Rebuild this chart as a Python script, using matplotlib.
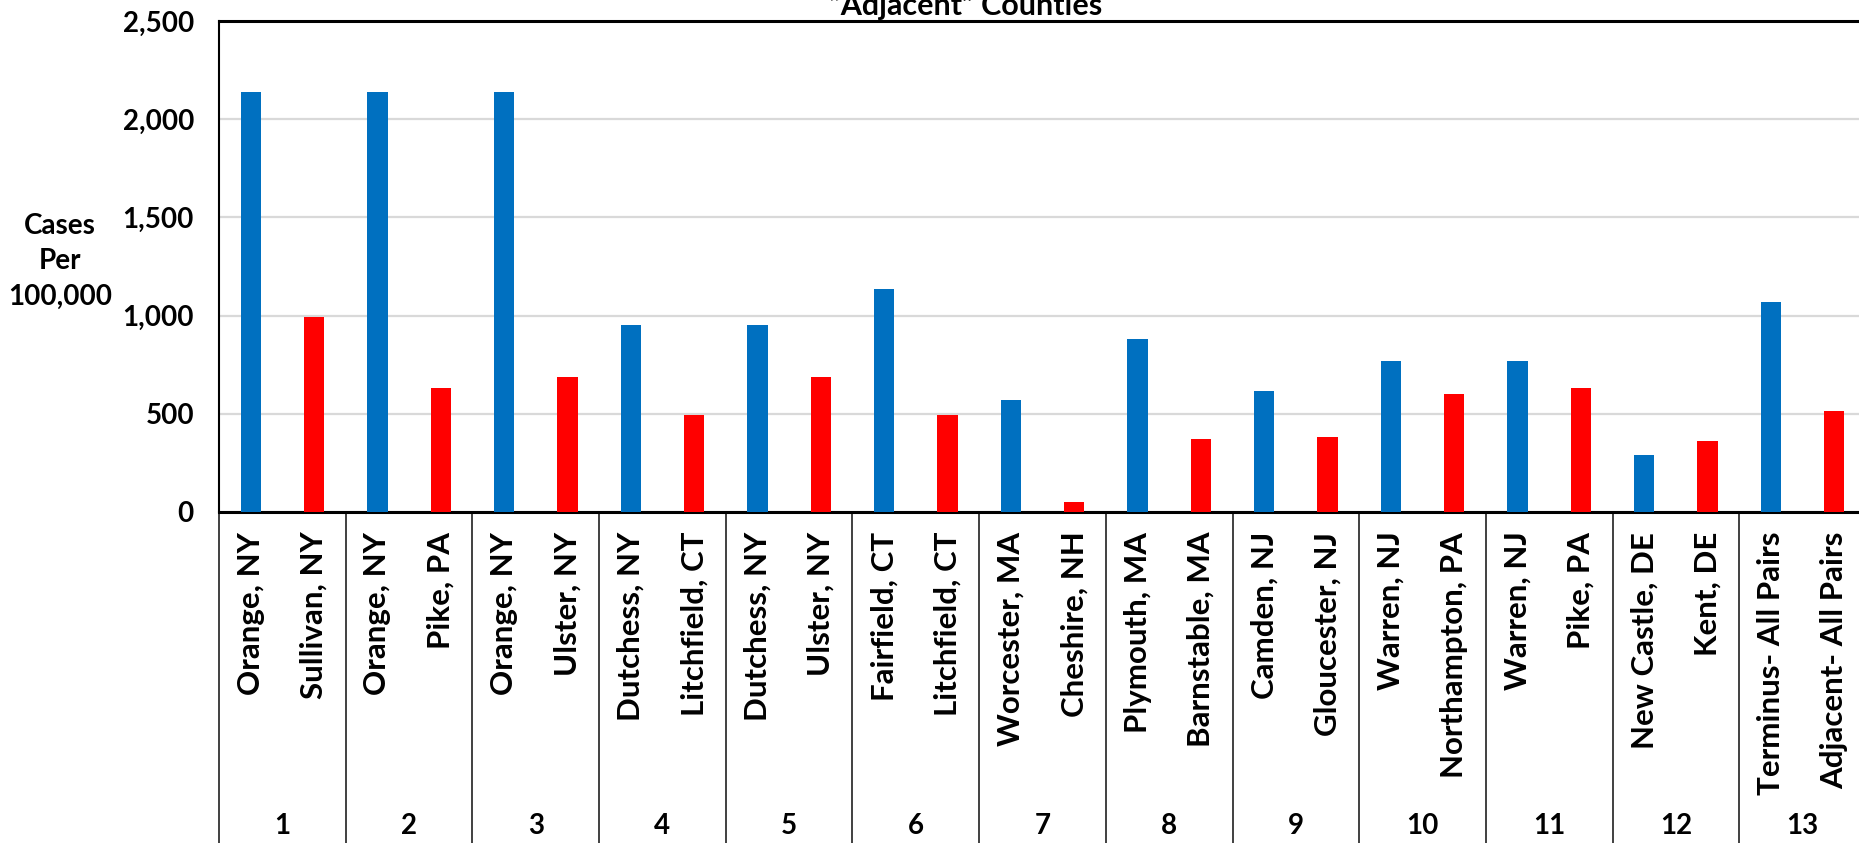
import matplotlib.pyplot as plt

plt.rcParams['font.family'] = ['Lato', 'DejaVu Sans']
plt.rcParams['font.weight'] = 'bold'

pair_numbers = ['1', '2', '3', '4', '5', '6', '7', '8', '9', '10', '11', '12', '13']
terminus_names = ['Orange, NY', 'Orange, NY', 'Orange, NY', 'Dutchess, NY',
                  'Dutchess, NY', 'Fairfield, CT', 'Worcester, MA',
                  'Plymouth, MA', 'Camden, NJ', 'Warren, NJ', 'Warren, NJ',
                  'New Castle, DE', 'Terminus- All Pairs']
adjacent_names = ['Sullivan, NY', 'Pike, PA', 'Ulster, NY', 'Litchfield, CT',
                  'Ulster, NY', 'Litchfield, CT', 'Cheshire, NH',
                  'Barnstable, MA', 'Gloucester, NJ', 'Northampton, PA',
                  'Pike, PA', 'Kent, DE', 'Adjacent- All Pairs']
terminus_rates = [2140, 2140, 2140, 950, 950, 1137, 570, 883, 616, 768, 768,
                  291, 1067]
adjacent_rates = [995, 630, 685, 493, 685, 493, 50, 370, 382, 600, 630, 360,
                  515]

BLUE = '#0070C0'
RED = '#FF0000'

fig = plt.figure(figsize=(18.59, 8.43), dpi=100)
ax = fig.add_axes([219 / 1859, (843 - 512) / 843, 1647 / 1859, 491 / 843])

n = len(pair_numbers)
x_blue = [2 * i for i in range(n)]
x_red = [2 * i + 1 for i in range(n)]
ax.bar(x_blue, terminus_rates, width=0.32, color=BLUE, zorder=3)
ax.bar(x_red, adjacent_rates, width=0.32, color=RED, zorder=3)

ax.set_xlim(-0.5, 2 * n - 0.5)
ax.set_ylim(0, 2500)
ax.set_yticks([0, 500, 1000, 1500, 2000, 2500])
ax.set_yticklabels(['{:,}'.format(v) for v in [0, 500, 1000, 1500, 2000, 2500]])
ax.tick_params(axis='y', length=0, pad=18, labelsize=20)
ax.set_xticks([])
ax.grid(axis='y', color='#d9d9d9', linewidth=1.6, zorder=0)
for side in ['top', 'bottom', 'left', 'right']:
    ax.spines[side].set_color('black')
ax.spines['top'].set_linewidth(2.2)
ax.spines['bottom'].set_linewidth(2.2)
ax.spines['left'].set_linewidth(1.5)
ax.spines['right'].set_linewidth(1.5)

# category area below the axis
trans = ax.get_xaxis_transform()
for k in range(n + 1):
    xb = 2 * k - 0.5
    ax.plot([xb, xb], [0, -0.75], transform=trans, color='#404040',
            linewidth=1.4, clip_on=False)
for i in range(n):
    ax.text(x_blue[i], -0.04, terminus_names[i], rotation=90, ha='center',
            va='top', fontsize=22.5, fontweight='bold', transform=trans)
    ax.text(x_red[i], -0.04, adjacent_names[i], rotation=90, ha='center',
            va='top', fontsize=22.5, fontweight='bold', transform=trans)
    ax.text(2 * i + 0.5, -0.64, pair_numbers[i], ha='center', va='center',
            fontsize=20, fontweight='bold', transform=trans)

fig.text(60 / 1859, 1 - 261 / 843, 'Cases\nPer\n100,000', ha='center',
         va='center', fontsize=20, fontweight='bold', linespacing=1.45)
fig.text(966 / 1859, 1 - 15 / 843, '\u201cAdjacent\u201d Counties',
         ha='center', va='baseline', fontsize=22, fontweight='bold')

fig.savefig('out.png', dpi=100)
plt.close()
